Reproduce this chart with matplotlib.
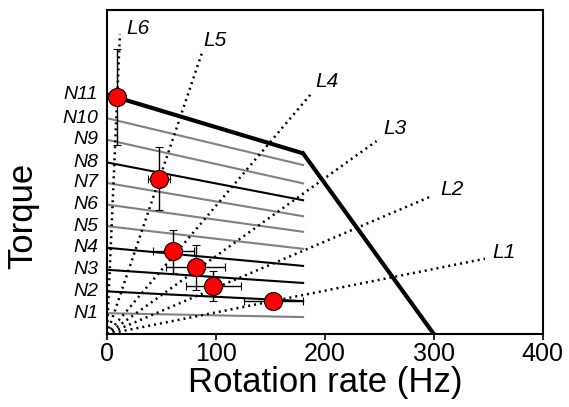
import numpy as np
import matplotlib.pyplot as plt
import matplotlib.transforms as mtransforms

plt.rcParams['font.family'] = ['Liberation Sans', 'DejaVu Sans']

# constant-N lines: torque at 0 Hz and at 180 Hz
n_names = ['N1', 'N2', 'N3', 'N4', 'N5', 'N6', 'N7', 'N8', 'N9', 'N10', 'N11']
n_left = [0.97, 1.98, 2.98, 4.0, 5.0, 6.0, 7.0, 7.95, 9.0, 10.0, 11.1]
n_right = [0.79, 1.53, 2.37, 3.16, 3.95, 4.74, 5.46, 6.2, 6.98, 7.83, 8.37]
n_color = ['gray', 'black', 'black', 'black', 'gray', 'gray', 'gray', 'black', 'gray', 'gray', 'black']
n_x_end = 180

# boundary: corner then down to zero torque
boundary_x = [180, 300]
boundary_y = [8.37, 0]

# load lines from origin
l_names = ['L1', 'L2', 'L3', 'L4', 'L5', 'L6']
l_end_x = [346.8, 297.9, 247.4, 186.9, 86.9, 11.9]
l_end_y = [3.49, 6.39, 8.94, 11.1, 12.98, 13.9]
l_lab_x = [364, 316.5, 264, 201.8, 99, 28.4]
l_lab_y = [3.77, 6.7, 9.5, 11.7, 13.6, 14.15]

# measured points
pt_x = [8.9, 48, 60.8, 81.4, 97.6, 152.6]
pt_y = [10.98, 7.2, 3.83, 3.1, 2.23, 1.55]
pt_xerr = [1, 10, 18.7, 27, 25, 27]
pt_yerr = [2.2, 1.47, 1.0, 1.05, 0.7, 0.1]

fig = plt.figure(figsize=(5.69, 4.07), dpi=100)
ax = fig.add_axes([0.188, 0.179, 0.766, 0.796])

for i in range(len(n_names)):
    if n_names[i] == 'N11':
        ax.plot([0, n_x_end], [n_left[i], n_right[i]], color='black', lw=3, solid_capstyle='butt', zorder=3)
    else:
        ax.plot([0, n_x_end], [n_left[i], n_right[i]], color=n_color[i], lw=1.5, zorder=2)

ax.plot(boundary_x, boundary_y, color='black', lw=3, zorder=3)

for i in range(len(l_names)):
    ax.plot([0, l_end_x[i]], [0, l_end_y[i]], color='black', lw=1.8,
            linestyle=(0, (0.8, 1.6)), zorder=2)
    ax.text(l_lab_x[i], l_lab_y[i], l_names[i], fontsize=15, style='italic',
            ha='center', va='center')

ax.errorbar(pt_x, pt_y, xerr=pt_xerr, yerr=pt_yerr, fmt='o', color='black',
            ecolor='black', elinewidth=1, capsize=3, markersize=13,
            markerfacecolor='red', markeredgecolor='black', markeredgewidth=0.8, zorder=5)

trans = mtransforms.blended_transform_factory(ax.transAxes, ax.transData)
for i in range(len(n_names)):
    ax.text(-0.02, n_left[i], n_names[i], transform=trans, fontsize=14, style='italic',
            ha='right', va='center')

ax.set_xlim(0, 400)
ax.set_ylim(0, 15)
ax.set_xticks([0, 100, 200, 300, 400])
ax.set_yticks([])
ax.tick_params(axis='x', direction='out', length=4, width=1.2, labelsize=18, pad=2)
for s in ax.spines.values():
    s.set_linewidth(1.5)

ax.set_xlabel('Rotation rate (Hz)', fontsize=25, labelpad=0)
fig.text(0.04, 0.47, 'Torque', rotation=90, fontsize=25, ha='center', va='center')

fig.savefig('out.png', dpi=100)
